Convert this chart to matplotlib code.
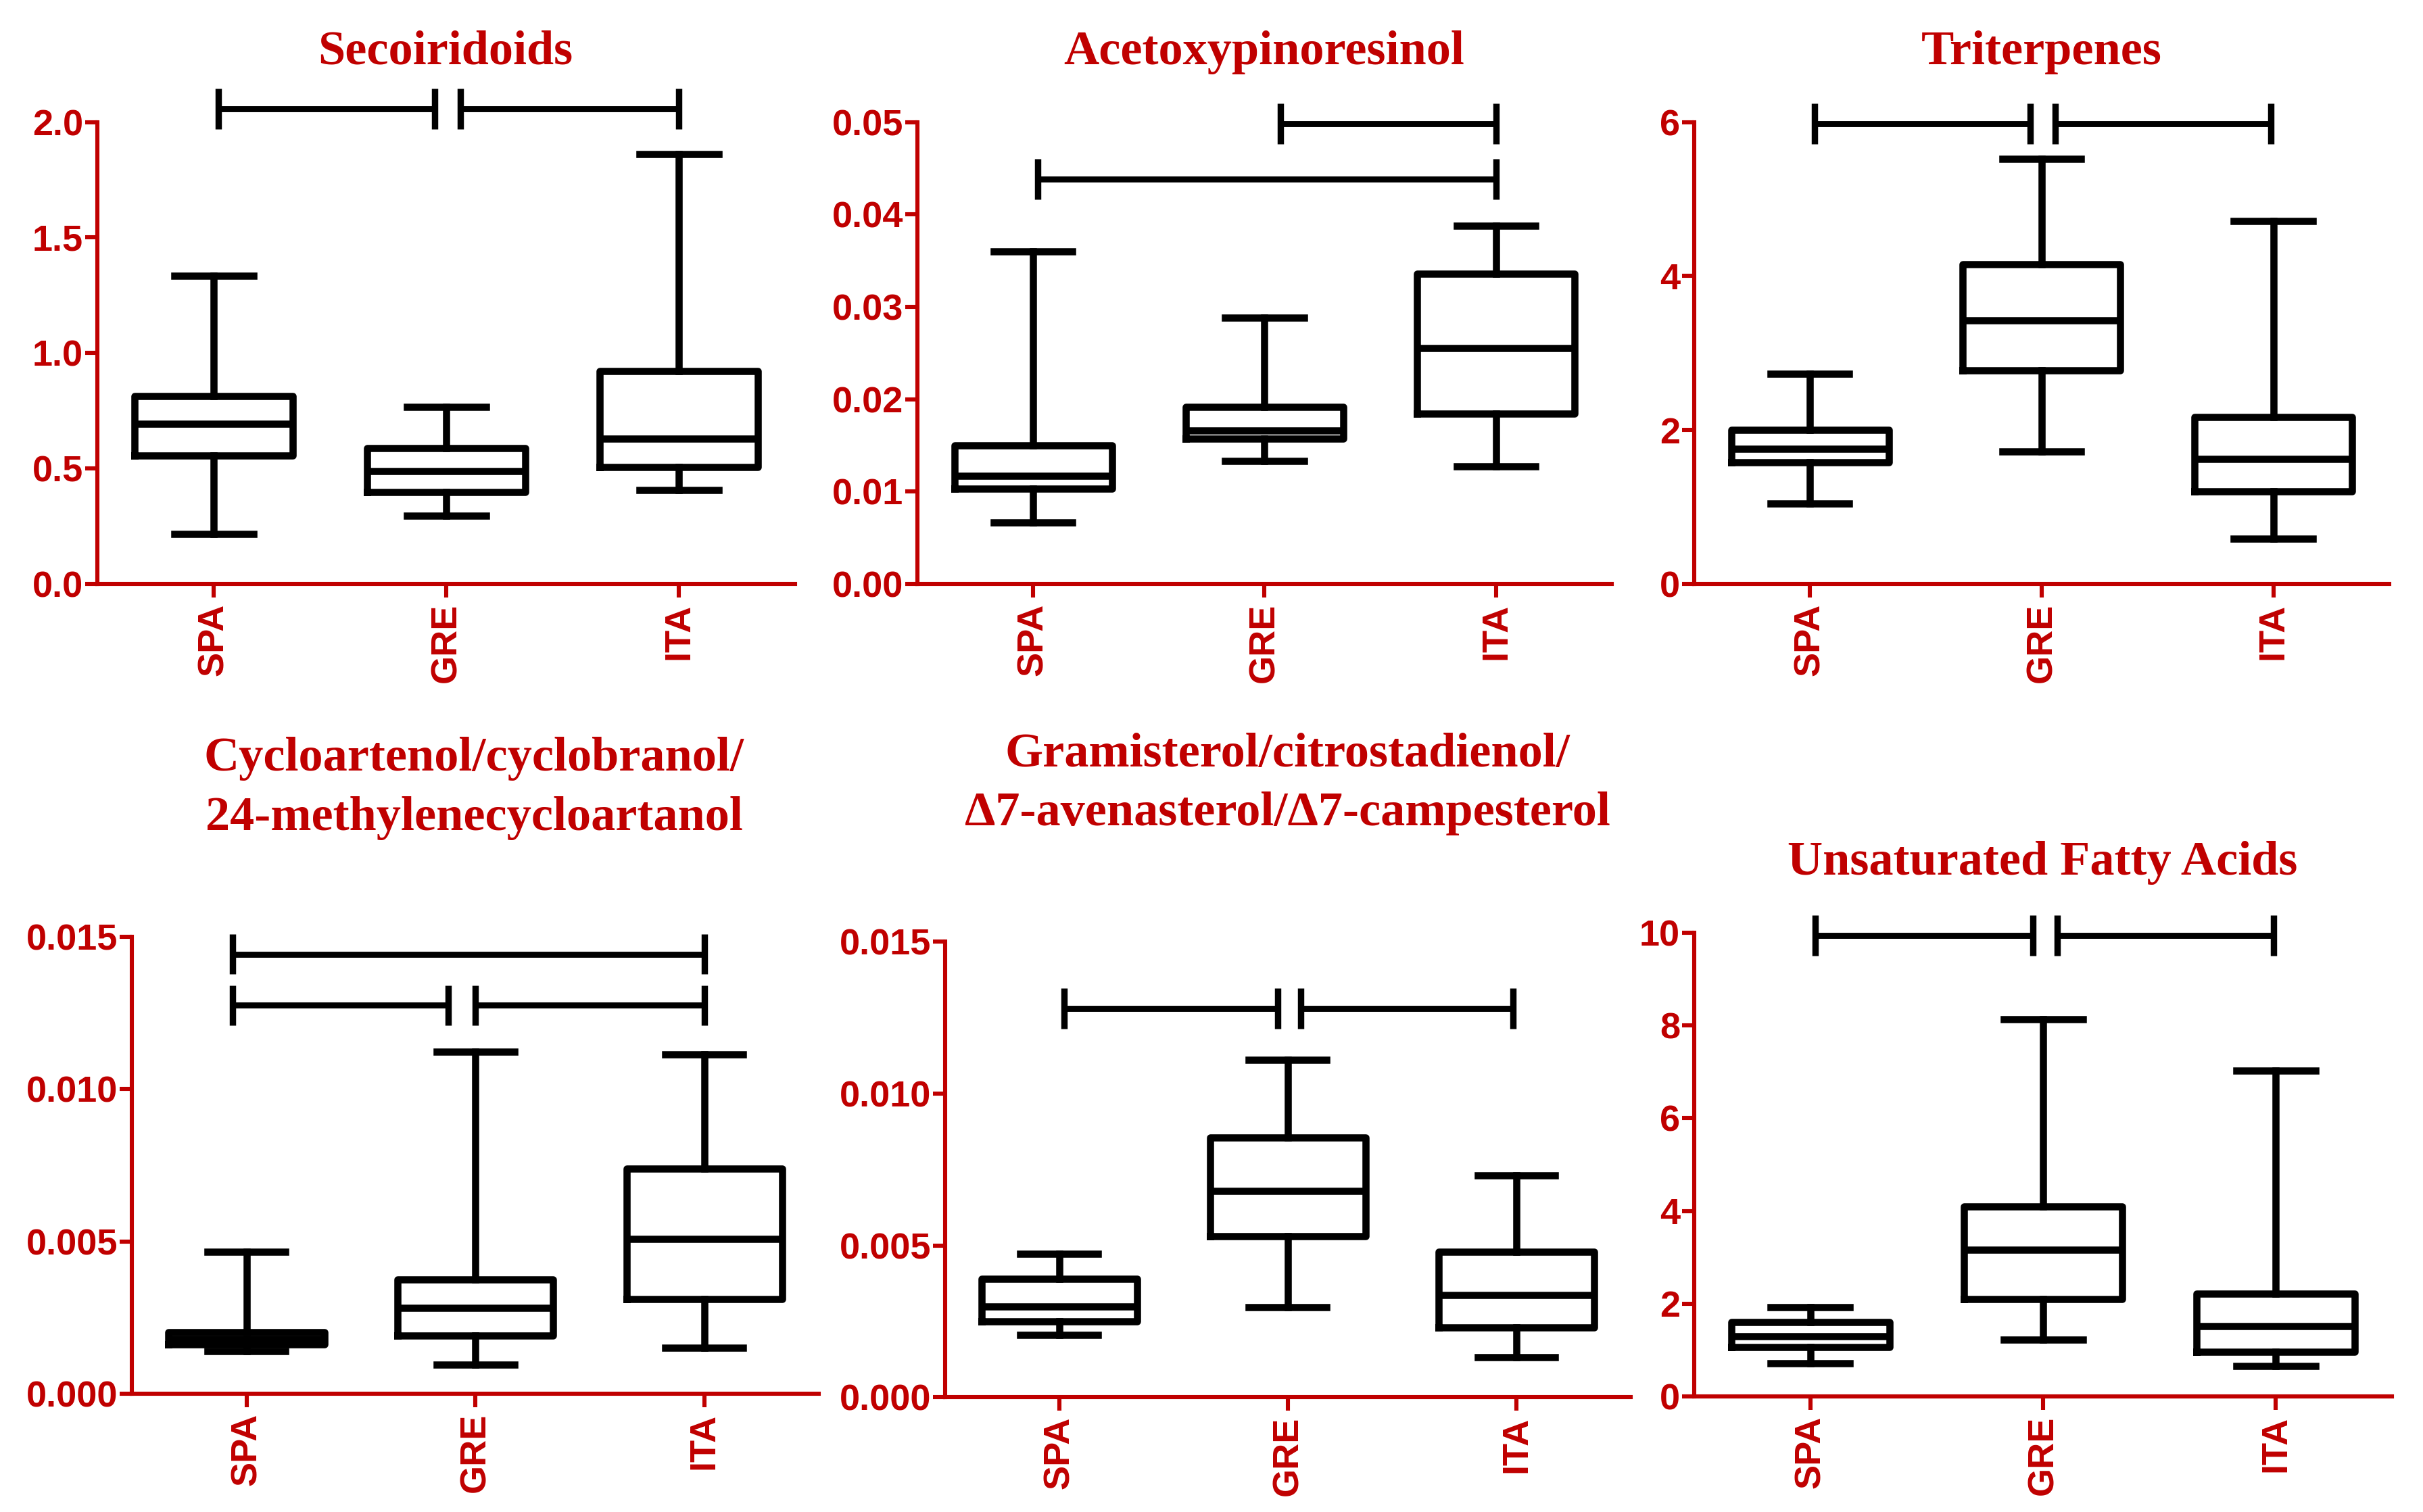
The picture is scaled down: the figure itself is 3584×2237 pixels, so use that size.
import matplotlib.pyplot as plt

RED = '#C00000'

groups = ['SPA', 'GRE', 'ITA']

# one row per group: [whisker low, Q1, median, Q3, whisker high]
seco_stats = [[0.215, 0.557, 0.693, 0.813, 1.333],
              [0.295, 0.398, 0.488, 0.589, 0.768],
              [0.407, 0.505, 0.628, 0.921, 1.862]]
aceto_stats = [[0.00668, 0.01033, 0.01168, 0.0150, 0.0360],
               [0.0133, 0.0157, 0.0166, 0.0192, 0.0288],
               [0.0127, 0.0184, 0.0255, 0.0336, 0.0388]]
triter_stats = [[1.04, 1.576, 1.755, 2.00, 2.73],
                [1.716, 2.776, 3.426, 4.155, 5.52],
                [0.589, 1.206, 1.626, 2.17, 4.716]]
cyclo_stats = [[0.0014, 0.00163, 0.0018, 0.00202, 0.00466],
               [0.00096, 0.0019, 0.00281, 0.00375, 0.01123],
               [0.00151, 0.00311, 0.00508, 0.0074, 0.01115]]
grami_stats = [[0.00206, 0.00251, 0.00298, 0.00391, 0.00472],
               [0.00297, 0.00529, 0.00678, 0.00854, 0.01111],
               [0.00133, 0.00231, 0.00337, 0.00479, 0.00731]]
ufa_stats = [[0.72, 1.07, 1.30, 1.60, 1.92],
             [1.22, 2.10, 3.17, 4.09, 8.13],
             [0.66, 0.97, 1.51, 2.21, 7.03]]

# significance brackets: (x start, x end, height)
seco_bars = [(1.02, 1.95, 2.056), (2.06, 3.0, 2.056)]
aceto_bars = [(2.07, 3.0, 0.0498), (1.02, 3.0, 0.0438)]
triter_bars = [(1.02, 1.95, 5.98), (2.06, 2.99, 5.98)]
cyclo_bars = [(0.94, 3.0, 0.01443), (0.94, 1.88, 0.01275), (2.0, 3.0, 0.01275)]
grami_bars = [(1.02, 1.955, 0.01279), (2.057, 2.985, 0.01279)]
ufa_bars = [(1.02, 1.955, 9.94), (2.062, 2.99, 9.94)]

titles = ['Secoiridoids', 'Acetoxypinoresinol', 'Triterpenes',
          'Cycloartenol/cyclobranol/\n24-methylenecycloartanol',
          'Gramisterol/citrostadienol/\n\u03947-avenasterol/\u03947-campesterol',
          'Unsaturated Fatty Acids']

yticks = [[0.0, 0.5, 1.0, 1.5, 2.0],
          [0.0, 0.01, 0.02, 0.03, 0.04, 0.05],
          [0, 2, 4, 6],
          [0.0, 0.005, 0.010, 0.015],
          [0.0, 0.005, 0.010, 0.015],
          [0, 2, 4, 6, 8, 10]]
yformats = ['%.1f', '%.2f', '%d', '%.3f', '%.3f', '%d']

all_stats = [seco_stats, aceto_stats, triter_stats, cyclo_stats, grami_stats, ufa_stats]
all_bars = [seco_bars, aceto_bars, triter_bars, cyclo_bars, grami_bars, ufa_bars]

# axes rectangles [left, bottom, width, height] in figure fraction
positions = [[0.0402, 0.6138, 0.2880, 0.3055],
             [0.3786, 0.6138, 0.2866, 0.3055],
             [0.6992, 0.6138, 0.2868, 0.3055],
             [0.0545, 0.0782, 0.2834, 0.3022],
             [0.3900, 0.0758, 0.2830, 0.3016],
             [0.6992, 0.0764, 0.2880, 0.3067]]
title_xy = [(0.1839, 0.9655), (0.5218, 0.9655), (0.8426, 0.9655),
            (0.1956, 0.4785), (0.5315, 0.4815), (0.8430, 0.4295)]

fig = plt.figure(figsize=(17.92, 11.185), dpi=200)

lw = 3.8
for i in range(6):
    ax = fig.add_axes(positions[i])
    stats = [dict(whislo=r[0], q1=r[1], med=r[2], q3=r[3], whishi=r[4], label=g)
             for r, g in zip(all_stats[i], groups)]
    ax.bxp(stats, positions=[1, 2, 3], widths=0.68, capwidths=0.34, showfliers=False,
           boxprops=dict(color='black', linewidth=lw),
           whiskerprops=dict(color='black', linewidth=lw),
           capprops=dict(color='black', linewidth=lw),
           medianprops=dict(color='black', linewidth=lw))

    ymax = yticks[i][-1]
    ax.set_xlim(0.5, 3.5)
    ax.set_ylim(0, ymax)
    ax.set_yticks(yticks[i])
    ax.set_yticklabels([yformats[i] % v for v in yticks[i]])

    # significance brackets drawn above the plotting area
    cap = 0.044 * ymax
    for x0, x1, h in all_bars[i]:
        ax.plot([x0, x1], [h, h], color='black', lw=3.2, clip_on=False, solid_capstyle='butt')
        for xx in (x0, x1):
            ax.plot([xx, xx], [h - cap, h + cap], color='black', lw=3.4, clip_on=False,
                    solid_capstyle='butt')

    for s in ['top', 'right']:
        ax.spines[s].set_visible(False)
    for s in ['left', 'bottom']:
        ax.spines[s].set_color(RED)
        ax.spines[s].set_linewidth(2.2)
    ax.tick_params(axis='both', colors=RED, width=2.2)
    ax.tick_params(axis='y', length=6.5, pad=1)
    ax.tick_params(axis='x', length=7.2, pad=3)
    for lab in ax.get_yticklabels():
        lab.set_fontfamily('Liberation Sans')
        lab.set_fontweight('bold')
        lab.set_fontsize(19.5)
        lab.set_color(RED)
    for lab in ax.get_xticklabels():
        lab.set_fontfamily('Liberation Sans')
        lab.set_fontweight('bold')
        lab.set_fontsize(19.5)
        lab.set_color(RED)
        lab.set_rotation(90)

    fig.text(title_xy[i][0], title_xy[i][1], titles[i], ha='center', va='center',
             fontsize=26, fontweight='bold', family='Liberation Serif', color=RED,
             linespacing=1.45)

fig.savefig('out.png', dpi=200, facecolor='white')
